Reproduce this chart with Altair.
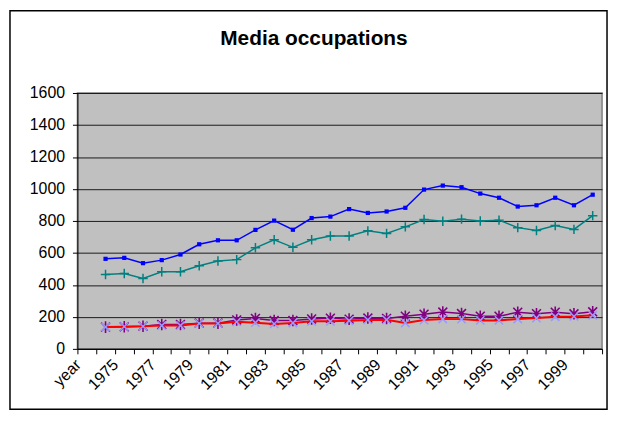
import altair as alt
import pandas as pd

categories = ["year", "1974", "1975", "1976", "1977", "1978", "1979", "1980", "1981",
              "1982", "1983", "1984", "1985", "1986", "1987", "1988", "1989", "1990",
              "1991", "1992", "1993", "1994", "1995", "1996", "1997", "1998", "1999", "2000"]
shown_labels = ["year", "1975", "1977", "1979", "1981", "1983", "1985", "1987", "1989",
                "1991", "1993", "1995", "1997", "1999"]
data_years = categories[1:]

blue_vals = [563, 569, 536, 555, 590, 654, 679, 679, 744, 802, 745, 818, 827, 874,
             850, 859, 882, 996, 1021, 1011, 971, 945, 890, 898, 945, 898, 964]
teal_vals = [465, 471, 440, 482, 482, 520, 549, 558, 632, 682, 635, 682, 706, 706,
             738, 722, 763, 809, 798, 811, 800, 805, 758, 740, 771, 747, 833]
red_vals = [137, 139, 141, 146, 146, 159, 159, 169, 164, 156, 162, 172, 172, 176,
            181, 182, 162, 180, 187, 186, 178, 178, 187, 193, 201, 203, 210]
purple_vals = [136, 138, 142, 152, 152, 161, 161, 181, 190, 177, 177, 187, 192, 186,
               193, 190, 204, 217, 230, 221, 204, 204, 229, 220, 229, 219, 232]

y_ticks = [0, 200, 400, 600, 800, 1000, 1200, 1400, 1600]

rows = []
for name, vals in [("a", blue_vals), ("b", teal_vals), ("c", red_vals), ("d", purple_vals)]:
    for cat, v in zip(data_years, vals):
        rows.append({"cat": cat, "value": v, "series": name})
df = pd.DataFrame(rows)

FONT = "Liberation Sans"
label_expr = "indexof(" + str(shown_labels) + ", datum.value) >= 0 ? datum.value : ''"

x_enc = alt.X(
    "cat:N",
    sort=categories,
    scale=alt.Scale(type="band", domain=categories, paddingInner=0, paddingOuter=0),
    axis=alt.Axis(
        title=None, labelAngle=-45, labelAlign="right", labelBaseline="middle",
        labelExpr=label_expr, labelFont=FONT, labelFontSize=16, labelColor="black",
        labelPadding=8, labelOffset=-9, tickBand="extent", tickSize=5, tickColor="black",
        domainColor="black", grid=False, labelOverlap=False, labelFlush=False,
    ),
)
y_enc = alt.Y(
    "value:Q",
    scale=alt.Scale(domain=[0, 1600], nice=False),
    axis=alt.Axis(
        title=None, values=y_ticks, format="d", labelFont=FONT, labelFontSize=16,
        labelColor="black", labelPadding=8, tickSize=5, tickColor="black",
        domainColor="black", grid=True, gridColor="#1a1a1a", gridWidth=1,
    ),
)

base = alt.Chart(df).encode(x=x_enc, y=y_enc)


def series(name):
    return base.transform_filter(alt.datum.series == name)


blue_line = series("a").mark_line(color="#0000FF", strokeWidth=1.5)
blue_pts = series("a").mark_point(shape="square", filled=True, size=18, color="#0000FF", opacity=1)
teal_line = series("b").mark_line(color="#008080", strokeWidth=1.5)
teal_pts = series("b").mark_point(shape="M-1,0L1,0M0,-1L0,1", filled=False, size=90,
                                  color="#008080", strokeWidth=1.5, opacity=1)
purple_line = series("d").mark_line(color="#800080", strokeWidth=1.5)
purple_pts = series("d").mark_point(shape="M-1,-1L1,1M-1,1L1,-1M0,-1.3L0,1.3", filled=False,
                                    size=80, color="#800080", strokeWidth=1.6, opacity=1)
red_line = series("c").mark_line(color="#FF0000", strokeWidth=2)
red_pts = series("c").mark_point(shape="M-1,-1L1,1M-1,1L1,-1", filled=False, size=70,
                                 color="#9999FF", strokeWidth=1.5, opacity=1)

frame = alt.Chart(pd.DataFrame({"k": [0]})).mark_rect(
    filled=False, stroke="black", strokeWidth=1.5
).encode(x=alt.value(-68), x2=alt.value(534), y=alt.value(-83), y2=alt.value(319))

chart = alt.layer(
    blue_line, blue_pts, teal_line, teal_pts, purple_line, purple_pts, red_line, red_pts, frame
).properties(
    width=529,
    height=258,
    padding={"left": 70, "top": 84, "right": 8, "bottom": 67},
    autosize=alt.AutoSizeParams(type="none"),
    title=alt.TitleParams(
        "Media occupations", font=FONT, fontSize=21, fontWeight="bold", color="black",
        anchor="middle", frame="group", dx=-26, baseline="alphabetic", offset=-56,
    ),
).configure(
    background="white",
    view=alt.ViewConfig(fill="#C0C0C0", stroke="#808080", strokeWidth=1.5),
)

chart.save("out.html", embed_options={"renderer": "svg", "actions": False})
